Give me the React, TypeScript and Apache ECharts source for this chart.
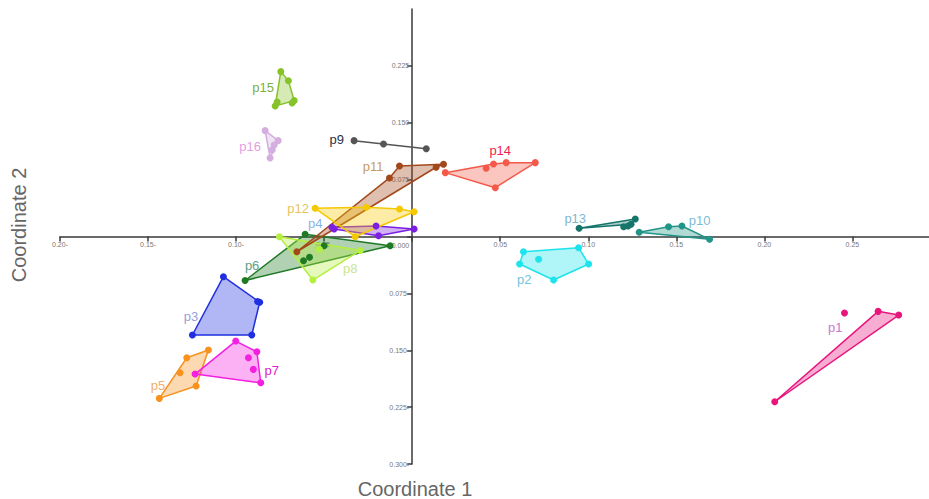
import React, { useEffect, useRef } from 'react';
import * as echarts from 'echarts';

// ---- data (in coordinate units) ----
const groupNames = ['p1', 'p2', 'p3', 'p4', 'p5', 'p6', 'p7', 'p8', 'p9', 'p10', 'p11', 'p12', 'p13', 'p14', 'p15', 'p16'];

// polygon vertices of each group, in drawing order
const hullPoints: number[][][] = [
  [[0.2059, -0.2179], [0.2763, -0.1036], [0.2646, -0.0987]],
  [[0.0632, -0.0201], [0.0945, -0.0148], [0.1002, -0.0363], [0.0803, -0.0574], [0.061, -0.0363]],
  [[-0.1072, -0.053], [-0.0866, -0.0867], [-0.0911, -0.1299], [-0.1248, -0.1299]],
  [[-0.0456, 0.0121], [-0.0205, 0.0139], [0.0011, 0.0099], [-0.0191, 0.0011], [-0.0443, 0.0099]],
  [[-0.128, -0.1599], [-0.1157, -0.1497], [-0.1227, -0.1972], [-0.1436, -0.2135]],
  [[-0.0949, -0.058], [-0.0608, 0.0029], [-0.0125, -0.0121]],
  [[-0.1233, -0.1814], [-0.1002, -0.1379], [-0.0882, -0.152], [-0.086, -0.1929]],
  [[-0.0754, -0.0003], [-0.0295, -0.0185], [-0.0564, -0.0574]],
  [[-0.033, 0.1264], [-0.0163, 0.122], [0.008, 0.1158]],
  [[0.1289, 0.0055], [0.1456, 0.0129], [0.1532, 0.0139], [0.1689, -0.0037]],
  [[-0.0655, -0.0201], [-0.0129, 0.0772], [-0.0072, 0.093], [0.0178, 0.0953], [0.0136, 0.0913]],
  [[-0.0551, 0.0372], [-0.0261, 0.0385], [-0.0072, 0.0363], [0.0011, 0.0327], [-0.0324, -0.0003]],
  [[0.0948, 0.0108], [0.1267, 0.0231], [0.1243, 0.0161]],
  [[0.0188, 0.0842], [0.0462, 0.0956], [0.0534, 0.0974], [0.0699, 0.0974], [0.0472, 0.0644]],
  [[-0.0746, 0.2174], [-0.0703, 0.2055], [-0.067, 0.1792], [-0.0778, 0.1722]],
  [[-0.0835, 0.1396], [-0.0761, 0.1264], [-0.0807, 0.1036]],
];

// other samples of each group (inside or off the polygon)
const extraPoints: number[][][] = [
  [[0.2455, -0.1009]],
  [[0.0718, -0.0301]],
  [[-0.0878, -0.0858]],
  [],
  [[-0.1318, -0.1797]],
  [[-0.05, -0.0121], [-0.0617, -0.0319], [-0.0583, -0.0274]],
  [[-0.093, -0.1599], [-0.0902, -0.1752]],
  [[-0.0527, -0.0169]],
  [],
  [],
  [],
  [],
  [[0.1226, 0.0139], [0.1201, 0.0129]],
  [[0.042, 0.09]],
  [[-0.0682, 0.1761], [-0.0767, 0.1774]],
  [[-0.0784, 0.1207], [-0.0795, 0.1141]],
];

// where each group's name sits
const labelAnchors: number[][] = [
  [0.2403, -0.1194], [0.0636, -0.0561], [-0.1256, -0.106], [-0.0551, 0.0178],
  [-0.1443, -0.1959], [-0.0909, -0.0376], [-0.0797, -0.1761], [-0.0352, -0.0416],
  [-0.0428, 0.1273], [0.1632, 0.0208], [-0.0222, 0.0917], [-0.0648, 0.0363],
  [0.0926, 0.024], [0.05, 0.1132], [-0.0847, 0.1959], [-0.092, 0.1181],
];

// axis ranges
const xMin = -0.2;
const xMax = 0.2935;
const xStep = 0.05;
const yMin = -0.3;
const yMax = 0.3;
const yStep = 0.075;

// ---- styles ----
const pointColors = [
  '#e8157d', '#1de3ec', '#1f2fe0', '#7b1fe0', '#f7921f', '#1f7a26', '#f41fdf', '#b5ef40',
  '#555555', '#229488', '#a3481b', '#f5c800', '#16756b', '#f4594a', '#86c22a', '#d3aedf',
];
const labelColors = [
  '#cc77cc', '#74c3dd', '#98a0d8', '#8ab4e8', '#efb06a', '#5e9e8a', '#e021c9', '#c7e690',
  '#283048', '#7cbcd8', '#c89a5c', '#e6c462', '#7fb6d0', '#ee1e4e', '#7daf3f', '#e29fe0',
];

const FONT = 'Helvetica, Arial, "Liberation Sans", sans-serif';
const W = 929;
const H = 499;
const GRID = { left: 60, right: 0, top: 9, bottom: 35 };

function xLabel(v: number): string {
  if (Math.abs(v) < 1e-9) return '';
  const s = Math.abs(v).toFixed(2);
  return v < 0 ? s + '-' : s;
}
function yLabel(v: number): string {
  if (Math.abs(v) < 1e-9) return '{z|0.000}';
  const s = Math.abs(v).toFixed(3);
  return v < 0 ? s + '-' : s;
}

export default function App() {
  const ref = useRef<HTMLDivElement>(null);
  useEffect(() => {
    if (!ref.current) return;
    const chart = echarts.init(ref.current, undefined, { renderer: 'svg' });
    const series: any[] = [];
    groupNames.forEach((name, g) => {
      const hull = hullPoints[g];
      const color = pointColors[g];
      const lc = labelColors[g];
      const anchor = labelAnchors[g];
      series.push({
        type: 'custom',
        coordinateSystem: 'cartesian2d',
        silent: true,
        data: [hull[0]],
        renderItem: (params: any, api: any) => {
          const pts = hull.map((p) => api.coord(p));
          const c = api.coord(anchor);
          return {
            type: 'group',
            children: [
              {
                type: 'polygon',
                shape: { points: pts },
                style: {
                  fill: echarts.color.modifyAlpha(color, 0.35),
                  stroke: color,
                  lineWidth: 1.5,
                  lineJoin: 'round',
                },
              },
              {
                type: 'text',
                x: c[0],
                y: c[1],
                style: {
                  text: name,
                  fill: lc,
                  font: '13px ' + FONT,
                  align: 'center',
                  verticalAlign: 'middle',
                },
              },
            ],
          };
        },
      });
      series.push({
        type: 'scatter',
        silent: true,
        symbolSize: 7,
        itemStyle: { color, opacity: 1 },
        data: [...hull, ...extraPoints[g]],
      });
    });

    // place the axes through the origin (pixel offsets from the grid edges)
    const plotW = W - GRID.left - GRID.right;
    const plotH = H - GRID.top - GRID.bottom;
    const yAxisOffset = -((0 - xMin) / (xMax - xMin)) * plotW;
    const xAxisOffset = -((0 - yMin) / (yMax - yMin)) * plotH;

    const axisLineStyle = { color: '#3a3a3a', width: 1.5 };
    chart.setOption({
      animation: false,
      grid: GRID,
      xAxis: {
        type: 'value',
        position: 'bottom',
        offset: xAxisOffset,
        min: xMin,
        max: xMax,
        interval: xStep,
        axisLine: { onZero: false, lineStyle: axisLineStyle },
        axisTick: { show: true, length: 5, lineStyle: axisLineStyle },
        axisLabel: {
          fontSize: 7,
          color: '#777',
          margin: 4,
          fontFamily: FONT,
          showMaxLabel: false,
          formatter: xLabel,
        },
        splitLine: { show: false },
      },
      yAxis: {
        type: 'value',
        position: 'left',
        offset: yAxisOffset,
        min: yMin,
        max: yMax,
        interval: yStep,
        axisLine: { onZero: false, lineStyle: axisLineStyle },
        axisTick: { show: true, length: 5, lineStyle: axisLineStyle },
        axisLabel: {
          fontSize: 7,
          color: '#777',
          margin: 3,
          fontFamily: FONT,
          showMaxLabel: false,
          formatter: yLabel,
          rich: { z: { fontSize: 7, color: '#777', fontFamily: FONT, padding: [18, 0, 0, 0] } },
        },
        splitLine: { show: false },
      },
      graphic: [
        {
          type: 'text',
          x: 415,
          y: 489,
          style: {
            text: 'Coordinate 1',
            fill: '#666',
            font: '20px ' + FONT,
            align: 'center',
            verticalAlign: 'middle',
          },
        },
        {
          type: 'text',
          x: 19,
          y: 225,
          rotation: Math.PI / 2,
          style: {
            text: 'Coordinate 2',
            fill: '#666',
            font: '20px ' + FONT,
            align: 'center',
            verticalAlign: 'middle',
          },
        },
      ],
      series,
    });
    return () => chart.dispose();
  }, []);
  return (
    <div
      ref={ref}
      style={{ position: 'absolute', left: 0, top: 0, width: W, height: H, background: '#fff' }}
    />
  );
}
